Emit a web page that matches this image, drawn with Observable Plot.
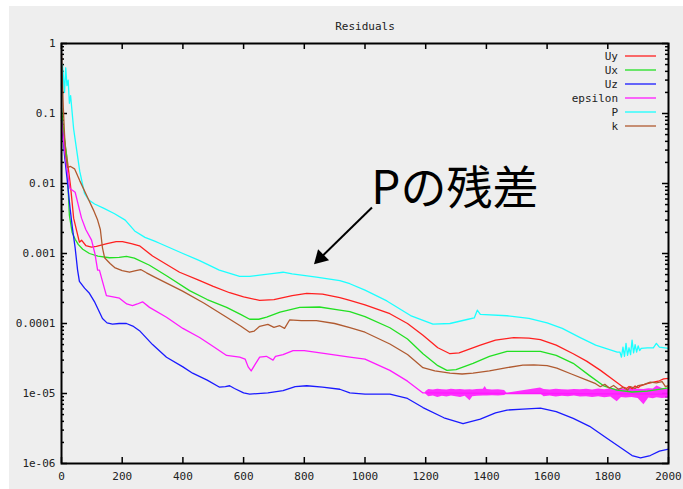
<!DOCTYPE html>
<html>
<head>
<meta charset="utf-8">
<script src="https://cdn.jsdelivr.net/npm/d3@7"></script>
<script src="https://cdn.jsdelivr.net/npm/@observablehq/plot@0.6"></script>
<style>
  html, body { margin: 0; padding: 0; background: #ffffff; }
  #wrap { position: relative; width: 683px; height: 489px; overflow: hidden; }
  #panel { position: absolute; left: 9px; top: 6px; right: 0; bottom: 0; background: #eeeeee; }
  #chart, #legend { position: absolute; left: 0; top: 0; }
</style>
</head>
<body>
<div id="wrap">
  <div id="panel"></div>
  <div id="chart"></div>
  <svg id="legend" width="683" height="489"></svg>
</div>
<script>
// Solver residual history (log scale), one iteration/value pair of arrays per field

const uyIter = [0, 10, 20, 30, 40, 50, 59, 66, 80, 99, 115, 150, 180, 201, 230, 257, 300, 389, 450, 500, 554, 600, 653, 700, 760, 808, 860, 917, 950, 1000, 1082, 1140, 1191, 1240, 1280, 1310, 1380, 1430, 1490, 1540, 1578, 1630, 1686, 1730, 1776, 1820, 1851, 1862, 1870, 1880, 1890, 1900, 1908, 1930, 1951, 1970, 1984, 2000];
const uyRes  = [0.09, 0.04, 0.02, 0.009, 0.0032, 0.0021, 0.00145, 0.00155, 0.0013, 0.00123, 0.00126, 0.00138, 0.00148, 0.00148, 0.00138, 0.00129, 0.00092, 0.00054, 0.00042, 0.00034, 0.000275, 0.00024, 0.000214, 0.00022, 0.00025, 0.000269, 0.000262, 0.000234, 0.000214, 0.000185, 0.000138, 0.0001, 0.000068, 0.000045, 0.000037, 0.000038, 0.000049, 0.000058, 0.000063, 0.000062, 0.000059, 0.000049, 0.000037, 0.000029, 0.0000214, 0.0000155, 0.0000123, 0.0000118, 0.0000126, 0.0000117, 0.0000128, 0.0000121, 0.0000129, 0.0000138, 0.0000145, 0.0000152, 0.0000162, 0.0000165];

const uxIter = [0, 8, 17, 22, 26, 35, 45, 55, 70, 92, 120, 158, 190, 214, 240, 290, 350, 422, 480, 544, 590, 620, 650, 676, 720, 785, 850, 917, 950, 1000, 1082, 1140, 1191, 1240, 1270, 1300, 1356, 1410, 1468, 1520, 1578, 1630, 1686, 1740, 1786, 1830, 1880, 1930, 1984, 2000];
const uxRes  = [0.12, 0.05, 0.025, 0.008, 0.0035, 0.002, 0.0016, 0.00135, 0.00115, 0.001, 0.00092, 0.00087, 0.00088, 0.00091, 0.00086, 0.00068, 0.00047, 0.000295, 0.00022, 0.00017, 0.000135, 0.000115, 0.000115, 0.000123, 0.000145, 0.00017, 0.000172, 0.000155, 0.000148, 0.000125, 0.000087, 0.00006, 0.000037, 0.000025, 0.0000214, 0.000022, 0.000027, 0.000034, 0.00004, 0.00004, 0.00004, 0.000035, 0.000027, 0.000018, 0.0000129, 0.0000112, 0.0000105, 0.0000108, 0.0000117, 0.000012];

const uzIter = [0, 10, 20, 28, 36, 45, 53, 59, 76, 92, 110, 135, 150, 168, 190, 214, 235, 257, 300, 346, 400, 432, 480, 521, 540, 554, 570, 600, 620, 680, 730, 770, 808, 860, 917, 950, 1000, 1082, 1140, 1191, 1260, 1323, 1380, 1430, 1468, 1520, 1578, 1630, 1686, 1740, 1797, 1850, 1880, 1908, 1940, 1970, 2000];
const uzRes  = [0.08, 0.025, 0.01, 0.0045, 0.0023, 0.0012, 0.00058, 0.0004, 0.00032, 0.00027, 0.0002, 0.000118, 0.000102, 0.000098, 0.0001, 0.0001, 0.000092, 0.000079, 0.00005, 0.000033, 0.000024, 0.0000195, 0.0000155, 0.0000123, 0.0000125, 0.0000129, 0.0000118, 0.0000102, 0.0000098, 0.0000102, 0.000011, 0.0000125, 0.0000129, 0.0000123, 0.0000115, 0.0000102, 0.0000098, 0.0000098, 0.0000085, 0.0000063, 0.0000045, 0.0000037, 0.0000043, 0.0000053, 0.0000058, 0.000006, 0.0000062, 0.0000055, 0.0000044, 0.0000034, 0.0000023, 0.0000016, 0.0000013, 0.0000012, 0.0000013, 0.0000015, 0.0000016];

const epsIter = [0, 10, 20, 28, 36, 45, 55, 66, 80, 99, 110, 119, 125, 135, 148, 170, 191, 215, 234, 250, 267, 290, 346, 400, 455, 500, 544, 587, 605, 615, 625, 640, 653, 675, 697, 705, 730, 763, 800, 870, 950, 1000, 1082, 1140, 1191, 1200, 1468, 1578, 2000];
const epsRes  = [0.08, 0.03, 0.014, 0.0085, 0.008, 0.0075, 0.005, 0.0032, 0.0022, 0.00155, 0.001, 0.00058, 0.00058, 0.0004, 0.00025, 0.00024, 0.00023, 0.00019, 0.00018, 0.00019, 0.000204, 0.00017, 0.000123, 0.000085, 0.000063, 0.000047, 0.000035, 0.000033, 0.000031, 0.000024, 0.000021, 0.000027, 0.000033, 0.000034, 0.00003, 0.000034, 0.000036, 0.000041, 0.000041, 0.000037, 0.000033, 0.000031, 0.0000214, 0.000015, 0.0000102, 0.0000102, 0.000010, 0.000010, 0.0000098];

// epsilon oscillates strongly after iteration 1200: envelope of the scatter
const epsBandIter = [1200, 1210, 1225, 1240, 1255, 1270, 1285, 1300, 1315, 1330, 1346, 1355, 1370, 1390, 1396, 1402, 1420, 1440, 1460, 1468, 1578, 1590, 1610, 1630, 1650, 1670, 1690, 1710, 1730, 1750, 1770, 1790, 1810, 1831, 1845, 1860, 1880, 1900, 1919, 1935, 1950, 1962, 1980, 2000];
const epsBandLo = [0.98, 0.90, 0.92, 0.88, 0.91, 0.89, 0.92, 0.90, 0.88, 0.91, 0.79, 0.90, 0.91, 0.92, 0.92, 0.92, 0.93, 0.92, 0.94, 0.99, 0.99, 0.90, 0.92, 0.89, 0.91, 0.90, 0.92, 0.89, 0.90, 0.88, 0.90, 0.87, 0.89, 0.76, 0.88, 0.86, 0.88, 0.85, 0.69, 0.86, 0.84, 0.87, 0.85, 0.86].map(v => v * 1e-5);
const epsBandHi = [1.06, 1.14, 1.12, 1.15, 1.13, 1.12, 1.15, 1.13, 1.14, 1.12, 1.13, 1.12, 1.14, 1.15, 1.26, 1.14, 1.12, 1.13, 1.10, 1.01, 1.20, 1.14, 1.12, 1.15, 1.13, 1.12, 1.14, 1.13, 1.15, 1.12, 1.16, 1.13, 1.17, 1.14, 1.18, 1.13, 1.20, 1.15, 1.14, 1.17, 1.16, 1.28, 1.18, 1.14].map(v => v * 1e-5);

const pIter = [0, 3, 6, 10, 14, 18, 22, 26, 30, 40, 50, 60, 76, 90, 109, 140, 175, 210, 241, 275, 307, 323, 400, 455, 520, 587, 620, 653, 700, 730, 760, 840, 917, 950, 1000, 1072, 1150, 1224, 1280, 1340, 1360, 1370, 1380, 1468, 1540, 1600, 1650, 1709, 1760, 1831, 1840, 1845, 1850, 1855, 1860, 1865, 1870, 1875, 1880, 1885, 1890, 1895, 1900, 1905, 1910, 1930, 1950, 1960, 1970, 2000];
const pRes  = [0.25, 0.5, 0.35, 0.2, 0.45, 0.25, 0.3, 0.14, 0.18, 0.06, 0.03, 0.015, 0.0072, 0.0058, 0.0051, 0.0044, 0.0037, 0.003, 0.0021, 0.0017, 0.0015, 0.0014, 0.001, 0.00079, 0.00058, 0.00047, 0.00047, 0.00049, 0.00052, 0.00054, 0.00051, 0.00046, 0.00041, 0.00037, 0.0003, 0.00021, 0.00013, 0.000098, 0.0001, 0.000115, 0.00012, 0.000155, 0.000135, 0.000129, 0.000118, 0.000102, 0.000085, 0.000063, 0.000049, 0.000039, 0.000039, 0.000033, 0.000046, 0.000034, 0.000052, 0.000035, 0.000045, 0.000036, 0.000058, 0.000038, 0.00005, 0.000039, 0.000048, 0.000041, 0.000044, 0.000045, 0.000045, 0.000052, 0.000046, 0.000044];

const kIter = [0, 3, 6, 10, 14, 20, 30, 43, 60, 86, 105, 119, 128, 135, 142, 160, 175, 200, 224, 245, 261, 280, 307, 399, 470, 544, 590, 620, 635, 653, 680, 700, 719, 735, 752, 790, 840, 900, 950, 1000, 1082, 1140, 1191, 1230, 1280, 1320, 1356, 1410, 1468, 1520, 1556, 1600, 1632, 1680, 1731, 1760, 1775, 1790, 1805, 1819, 1835, 1850, 1865, 1874, 1890, 1900, 1920, 1940, 1960, 1979, 1990, 2000];
const kRes  = [0.7, 0.3, 0.12, 0.05, 0.025, 0.017, 0.0175, 0.0162, 0.011, 0.0063, 0.0042, 0.003, 0.0022, 0.0012, 0.00087, 0.00072, 0.00063, 0.00057, 0.00054, 0.00057, 0.00059, 0.00053, 0.00046, 0.00029, 0.000195, 0.000123, 0.000092, 0.000075, 0.000078, 0.000091, 0.000097, 0.000088, 0.000093, 0.000085, 0.000113, 0.00011, 0.00011, 0.0001, 0.000087, 0.000075, 0.000051, 0.000036, 0.0000234, 0.000021, 0.0000195, 0.000019, 0.0000195, 0.000021, 0.0000234, 0.0000255, 0.0000257, 0.000025, 0.000023, 0.000019, 0.0000155, 0.0000138, 0.0000125, 0.0000135, 0.000012, 0.000013, 0.0000115, 0.0000122, 0.0000112, 0.0000125, 0.0000118, 0.000013, 0.0000135, 0.0000145, 0.0000142, 0.0000148, 0.0000125, 0.000013];

const seriesNames  = ["Uy", "Ux", "Uz", "epsilon", "P", "k"];
const seriesColors = ["#ff2020", "#22e022", "#1a1aff", "#ff1aff", "#1affff", "#b05a30"];

const xTicks = [0, 200, 400, 600, 800, 1000, 1200, 1400, 1600, 1800, 2000];
const yTicks = [1, 0.1, 0.01, 0.001, 0.0001, 1e-5, 1e-6];
const yTickLabels = ["1", "0.1", "0.01", "0.001", "0.0001", "1e-05", "1e-06"];
const yMinorTicks = yTicks.slice(1).flatMap(d => [2, 3, 4, 5, 6, 7, 8, 9].map(m => d * m));

const annotationText = "Pの残差";
const arrowFrom = {x: 1023, y: 0.00454};
const arrowTo = {x: 853, y: 0.000863};
const labelAt = {x: 1021, y: 0.0083};

// long-format rows for the line marks
const columns = [
  [uyIter, uyRes], [uxIter, uxRes], [uzIter, uzRes],
  [epsIter, epsRes], [pIter, pRes], [kIter, kRes]
];
const rows = columns.flatMap(([it, res], s) =>
  it.map((x, i) => ({series: seriesNames[s], iter: x, res: res[i]})));
const epsBand = epsBandIter.map((x, i) => ({iter: x, lo: epsBandLo[i], hi: epsBandHi[i]}));
const yLabel = new Map(yTicks.map((d, i) => [d, yTickLabels[i]]));

const W = 683, H = 489, ML = 61, MR = 15, MT = 43, MB = 26;
const FW = W - ML - MR, FH = H - MT - MB;

const chart = Plot.plot({
  width: W, height: H,
  marginLeft: ML, marginRight: MR, marginTop: MT, marginBottom: MB,
  style: {background: "transparent", fontFamily: "'DejaVu Sans Mono', monospace", fontSize: "11px", color: "#222"},
  x: {domain: [0, 2000]},
  y: {type: "log", domain: [1e-6, 1]},
  color: {domain: seriesNames, range: seriesColors},
  marks: [
    Plot.axisX(xTicks, {tickSize: 0, tickPadding: 9, tickFormat: d => String(d), label: null}),
    Plot.axisY(yTicks, {tickSize: 0, tickPadding: 6, tickFormat: d => yLabel.get(d), label: null}),
    // inward ticks, mirrored on all four sides
    Plot.ruleX(xTicks, {stroke: "black", strokeWidth: 1.5, insetTop: FH - 6}),
    Plot.ruleX(xTicks, {stroke: "black", strokeWidth: 1.5, insetBottom: FH - 6}),
    Plot.ruleY(yTicks, {stroke: "black", strokeWidth: 1.5, insetRight: FW - 6}),
    Plot.ruleY(yTicks, {stroke: "black", strokeWidth: 1.5, insetLeft: FW - 6}),
    Plot.ruleY(yMinorTicks, {stroke: "black", strokeWidth: 1.5, insetRight: FW - 3}),
    Plot.ruleY(yMinorTicks, {stroke: "black", strokeWidth: 1.5, insetLeft: FW - 3}),
    Plot.areaY(epsBand, {x: "iter", y1: "lo", y2: "hi", fill: seriesColors[3], fillOpacity: 0.9}),
    Plot.line(rows, {x: "iter", y: "res", z: "series", stroke: "series", strokeWidth: 1.3}),
    Plot.frame({stroke: "black", strokeWidth: 2}),
    Plot.text([annotationText], {
      x: labelAt.x, y: labelAt.y, textAnchor: "start",
      fontFamily: "'Noto Sans CJK JP', sans-serif", fontSize: 46, fill: "black"
    }),
    Plot.link([0], {
      x1: arrowFrom.x, y1: arrowFrom.y, x2: arrowTo.x, y2: arrowTo.y,
      stroke: "black", strokeWidth: 2
    }),
    Plot.dot([0], {
      x: arrowTo.x, y: arrowTo.y, symbol: "triangle", r: 5.8, rotate: 225,
      fill: "black", stroke: "none"
    }),
    Plot.text(["Residuals"], {frameAnchor: "top", dy: -21, fill: "#222"})
  ]
});
document.getElementById("chart").append(chart);

// key in the upper right corner of the frame
const legend = d3.select("#legend");
seriesNames.forEach((name, i) => {
  const y = 56 + 14 * i;
  legend.append("text")
    .attr("x", 618).attr("y", y).attr("dy", "0.35em")
    .attr("text-anchor", "end")
    .attr("font-family", "'DejaVu Sans Mono', monospace")
    .attr("font-size", 11).attr("fill", "#222")
    .text(name);
  legend.append("line")
    .attr("x1", 625).attr("x2", 656).attr("y1", y).attr("y2", y)
    .attr("stroke", seriesColors[i]).attr("stroke-width", 1.3);
});
</script>
</body>
</html>
